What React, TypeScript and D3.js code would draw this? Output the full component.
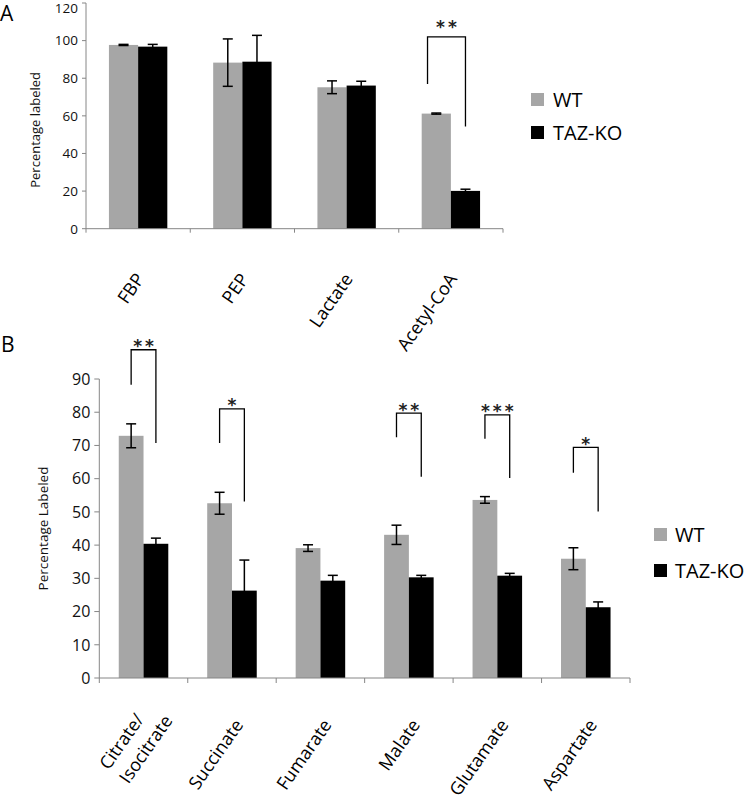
import React, { useEffect, useRef } from 'react';
import * as d3 from 'd3';

// ---------- DATA ----------
const seriesNames = ['WT', 'TAZ-KO'];
const seriesColors = ['#a6a6a6', '#000000'];

// Panel A
const catsA = ['FBP', 'PEP', 'Lactate', 'Acetyl-CoA'];
const wtA = [97.7, 88.3, 75.2, 61.2];
const wtErrA = [0.3, 12.6, 3.4, 0.3];
const koA = [96.8, 88.8, 76.1, 20.1];
const koErrA = [1.2, 14.0, 2.3, 0.9];
const ticksA = [0, 20, 40, 60, 80, 100, 120];
const sigLabelA = ['', '', '', '**'];
const sigTopA = [0, 0, 0, 102];
const sigWtEndA = [0, 0, 0, 77];
const sigKoEndA = [0, 0, 0, 54.3];

// Panel B
const catsB = ['Citrate/\nIsocitrate', 'Succinate', 'Fumarate', 'Malate', 'Glutamate', 'Aspartate'];
const wtB = [72.9, 52.6, 39.1, 43.1, 53.6, 35.9];
const wtErrB = [3.6, 3.3, 1.0, 2.9, 1.0, 3.3];
const koB = [40.4, 26.3, 29.3, 30.3, 30.8, 21.3];
const koErrB = [1.7, 9.2, 1.6, 0.6, 0.7, 1.6];
const ticksB = [0, 10, 20, 30, 40, 50, 60, 70, 80, 90];
const sigLabelB = ['**', '*', '', '**', '***', '*'];
const sigTopB = [98.8, 81.0, 0, 79.7, 79.2, 69.4];
const sigWtEndB = [88.3, 70.7, 0, 72.5, 72.0, 61.8];
const sigKoEndB = [70.7, 53.1, 0, 60.6, 60.2, 50.1];

const FONT = "'Open Sans', sans-serif";
const AXIS = '#868686';

type Panel = {
  letter: string; letterX: number; letterY: number;
  cats: string[]; wt: number[]; wtErr: number[]; ko: number[]; koErr: number[];
  ticks: number[]; yMax: number;
  sig: string[]; sigTop: number[]; sigWt: number[]; sigKo: number[];
  x0: number; x1: number; yBottom: number; yTop: number;
  tickFont: number; tickLen: number; yLabel: string; yLabelX: number; yLabelFont: number; yLabelShift: number;
  catFont: number; catDx: number; catY: number;
  starDy: number; bracketLeftShift: number;
  legendX: number; legendYs: number[]; legendTextX: number;
};

const panels: Panel[] = [
  {
    letter: 'A', letterX: 0, letterY: 21,
    cats: catsA, wt: wtA, wtErr: wtErrA, ko: koA, koErr: koErrA,
    ticks: ticksA, yMax: 120,
    sig: sigLabelA, sigTop: sigTopA, sigWt: sigWtEndA, sigKo: sigKoEndA,
    x0: 86, x1: 503, yBottom: 228.7, yTop: 3,
    tickFont: 13.5, tickLen: 4, yLabel: 'Percentage labeled', yLabelX: 40, yLabelFont: 13, yLabelShift: 14,
    catFont: 18, catDx: 7, catY: 279,
    starDy: -4, bracketLeftShift: -0.3,
    legendX: 531, legendYs: [93, 126], legendTextX: 553,
  },
  {
    letter: 'B', letterX: 1, letterY: 352,
    cats: catsB, wt: wtB, wtErr: wtErrB, ko: koB, koErr: koErrB,
    ticks: ticksB, yMax: 90,
    sig: sigLabelB, sigTop: sigTopB, sigWt: sigWtEndB, sigKo: sigKoEndB,
    x0: 99.3, x1: 630, yBottom: 678, yTop: 379,
    tickFont: 16, tickLen: 5, yLabel: 'Percentage Labeled', yLabelX: 47.5, yLabelFont: 13.5, yLabelShift: 0,
    catFont: 18, catDx: 12, catY: 725,
    starDy: 2.5, bracketLeftShift: 0,
    legendX: 654, legendYs: [528, 564], legendTextX: 675,
  },
];

const ANGLE = -55;

function drawPanel(svg: d3.Selection<SVGSVGElement, unknown, null, undefined>, p: Panel) {
  const g = svg.append('g');
  const x = d3.scaleBand<string>().domain(p.cats).range([p.x0, p.x1]).padding(0);
  const y = d3.scaleLinear().domain([0, p.yMax]).range([p.yBottom, p.yTop]);
  const bw = x.bandwidth() * 0.28;
  const cx = (c: string) => (x(c) as number) + x.bandwidth() / 2;

  // panel letter
  g.append('text').attr('x', p.letterX).attr('y', p.letterY)
    .attr('font-family', FONT).attr('font-size', 21).attr('fill', '#000').text(p.letter);

  // bars
  const series = [
    { vals: p.wt, color: seriesColors[0], off: -1 },
    { vals: p.ko, color: seriesColors[1], off: 0 },
  ];
  series.forEach((s) => {
    p.cats.forEach((c, i) => {
      const bx = cx(c) + s.off * bw;
      g.append('rect').attr('x', bx).attr('y', y(s.vals[i]))
        .attr('width', bw).attr('height', y(0) - y(s.vals[i])).attr('fill', s.color);
    });
  });

  // axes
  const ax = g.append('g').attr('stroke', AXIS).attr('stroke-width', 1).attr('fill', 'none');
  ax.append('line').attr('x1', p.x0).attr('x2', p.x0).attr('y1', y(p.yMax)).attr('y2', y(0));
  ax.append('line').attr('x1', p.x0).attr('x2', p.x1).attr('y1', y(0)).attr('y2', y(0));
  p.ticks.forEach((t) => {
    ax.append('line').attr('x1', p.x0 - p.tickLen).attr('x2', p.x0).attr('y1', y(t)).attr('y2', y(t));
  });
  const bounds = [...p.cats.map((c) => x(c) as number), p.x1];
  bounds.forEach((bx) => {
    ax.append('line').attr('x1', bx).attr('x2', bx).attr('y1', y(0)).attr('y2', y(0) + p.tickLen);
  });

  // tick labels
  p.ticks.forEach((t) => {
    g.append('text').attr('x', p.x0 - p.tickLen - 4).attr('y', Math.max(y(t), 8))
      .attr('dy', '0.36em').attr('text-anchor', 'end')
      .attr('font-family', FONT).attr('font-size', p.tickFont).attr('fill', '#111').text(String(t));
  });

  // y label
  g.append('text')
    .attr('transform', `translate(${p.yLabelX},${(y(0) + y(p.yMax)) / 2 + p.yLabelShift}) rotate(-90)`)
    .attr('text-anchor', 'middle').attr('font-family', FONT).attr('font-size', p.yLabelFont)
    .attr('fill', '#111').text(p.yLabel);

  // error bars
  const eg = g.append('g').attr('stroke', '#000').attr('stroke-width', 1.5);
  [
    { vals: p.wt, errs: p.wtErr, off: -0.5 },
    { vals: p.ko, errs: p.koErr, off: 0.5 },
  ].forEach((s) => {
    p.cats.forEach((c, i) => {
      const ex = cx(c) + s.off * bw;
      const hi = y(s.vals[i] + s.errs[i]);
      const lo = y(s.vals[i] - s.errs[i]);
      eg.append('line').attr('x1', ex).attr('x2', ex).attr('y1', hi).attr('y2', lo);
      eg.append('line').attr('x1', ex - 5).attr('x2', ex + 5).attr('y1', hi).attr('y2', hi);
      eg.append('line').attr('x1', ex - 5).attr('x2', ex + 5).attr('y1', lo).attr('y2', lo);
    });
  });

  // significance brackets
  p.cats.forEach((c, i) => {
    if (!p.sig[i]) return;
    const lx = cx(c) - bw / 2 + p.bracketLeftShift * bw;
    const rx = cx(c) + bw / 2;
    const top = y(p.sigTop[i]);
    g.append('path')
      .attr('d', `M${lx},${y(p.sigWt[i])}V${top}H${rx}V${y(p.sigKo[i])}`)
      .attr('fill', 'none').attr('stroke', '#000').attr('stroke-width', 1.3);
    g.append('text').attr('x', (lx + rx) / 2 + 1.5).attr('y', top + p.starDy)
      .attr('text-anchor', 'middle').attr('font-family', "'DejaVu Sans', sans-serif")
      .attr('font-weight', 'bold')
      .attr('font-size', 17).attr('letter-spacing', 3).attr('fill', '#222').text(p.sig[i]);
  });

  // category labels (rotated)
  p.cats.forEach((c) => {
    const lines = c.split('\n');
    const n = lines.length;
    const lh = p.catFont * 1.35;
    const t = g.append('text').attr('font-family', FONT).attr('font-size', p.catFont).attr('fill', '#000');
    const spans = lines.map((ln, k) =>
      t.append('tspan').attr('x', 0).attr('y', (k - (n - 1) / 2) * lh).text(ln)
    );
    const lens = spans.map((s) => (s.node() as SVGTSpanElement).getComputedTextLength());
    const maxLen = Math.max(...lens);
    spans.forEach((s) => s.attr('x', -maxLen + (n - 1) * lh * 0.56));
    t.attr('transform', `translate(${cx(c) + p.catDx},${p.catY}) rotate(${ANGLE})`);
  });

  // legend
  seriesNames.forEach((name, i) => {
    const ly = p.legendYs[i];
    g.append('rect').attr('x', p.legendX).attr('y', ly).attr('width', 13).attr('height', 13)
      .attr('fill', seriesColors[i]);
    g.append('text').attr('x', p.legendTextX).attr('y', ly + 6.5).attr('dy', '0.35em')
      .attr('font-family', FONT).attr('font-size', 20).attr('fill', '#000').text(name);
  });
}

export default function App() {
  const ref = useRef<SVGSVGElement | null>(null);
  useEffect(() => {
    if (!ref.current) return;
    const svg = d3.select(ref.current);
    svg.selectAll('*').remove();
    svg.append('rect').attr('width', 745).attr('height', 807).attr('fill', '#fff');
    panels.forEach((p) => drawPanel(svg, p));
  }, []);
  return (
    <svg
      ref={ref}
      width={745}
      height={807}
      style={{ position: 'absolute', left: 0, top: 0, display: 'block' }}
    />
  );
}
